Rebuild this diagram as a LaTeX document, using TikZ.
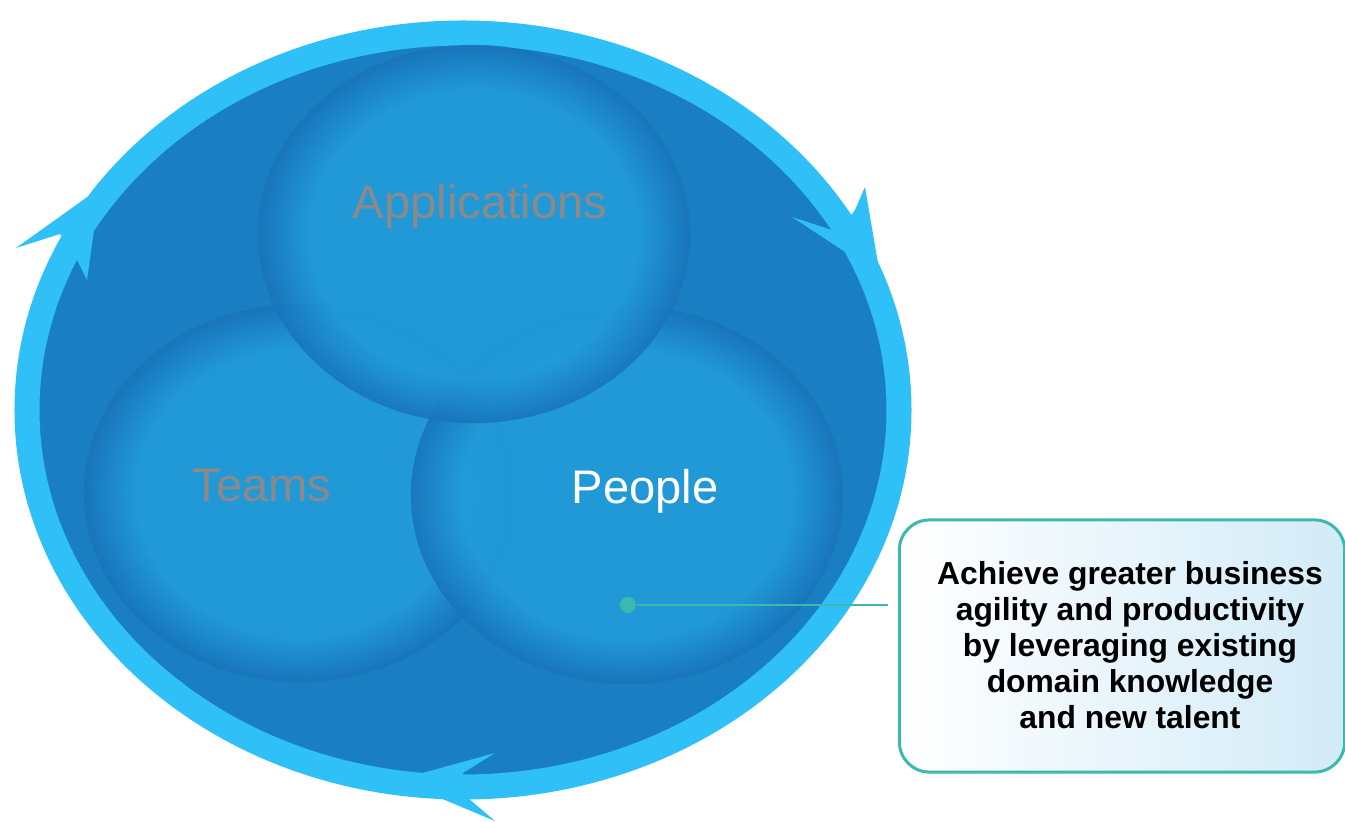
\documentclass[tikz,border=0pt]{standalone}
\usepackage{fontspec}
\setmainfont{Liberation Sans}
\usetikzlibrary{shapes.geometric}

\definecolor{ringblue}{HTML}{2EC0F6}
\definecolor{deepblue}{HTML}{1A7EC2}
\definecolor{bubin}{HTML}{229DDA}
\definecolor{bubout}{HTML}{1874BA}
\definecolor{labgrey}{HTML}{8E8989}
\definecolor{callteal}{HTML}{3DB8AE}
\definecolor{callfill}{HTML}{D2EBF7}
\pgfdeclareradialshading{bubble}{\pgfpoint{0bp}{0bp}}%
  {color(0bp)=(bubin); color(19bp)=(bubin); color(25bp)=(bubout); color(50bp)=(bubout)}

\begin{document}
\begin{tikzpicture}
  [x=0.01cm,y=-0.01cm,
   bubble/.style={ellipse,minimum width=4.32cm,minimum height=3.78cm,inner sep=0pt,shading=bubble,opacity=.88},
   bubtext/.style={font=\fontsize{13.4}{15}\selectfont,text=labgrey},
   barb/.style={fill=ringblue}]
  \useasboundingbox (0,0) rectangle (1345,822);

  % outer cycle
  \fill[deepblue] (463,410) ellipse [x radius=436, y radius=377];
  \draw[ringblue,line width=0.25cm] (463,410) ellipse [x radius=436, y radius=377];
  \fill[barb] (100,188) -- (16,248) -- (60,234) -- (72,250) -- (87,280) -- cycle;
  \fill[barb] (880,275) -- (792,217) -- (838,232) -- (855,210) -- (865,187) -- cycle;
  \fill[barb] (397,780) -- (495,753) -- (463,773) -- (468,798) -- (495,821) -- cycle;

  % the three circles
  \node[bubble] (teams) at (300,493) {};
  \node[bubble] (people) at (627,495) {};
  \node[bubble] (apps) at (474,234) {};
  \node[bubtext] (appstxt) at (480,206) {Applications};
  \node[bubtext] (teamstxt) at (262,486) {Teams};
  \node[bubtext,text=white] (peopletxt) at (645,491) {People};

  % callout
  \node[draw=callteal,line width=0.85pt,rounded corners=0.3cm,
        left color=white,right color=callfill,
        minimum width=4.45cm,minimum height=2.52cm] (goal) at (1122,646) {};
  \node[align=center,font=\fontsize{9.05}{10.25}\selectfont\bfseries] (goaltxt) at (1130,645)
    {Achieve greater business\\agility and productivity\\by leveraging existing\\domain knowledge\\and new talent};
  \node[circle,fill=callteal,minimum size=0.16cm,inner sep=0pt] (dot) at (628,605) {};
  \draw[callteal,line width=0.85pt,shorten >=0.1cm] (dot) -- (dot -| goal.west);
\end{tikzpicture}
\end{document}
